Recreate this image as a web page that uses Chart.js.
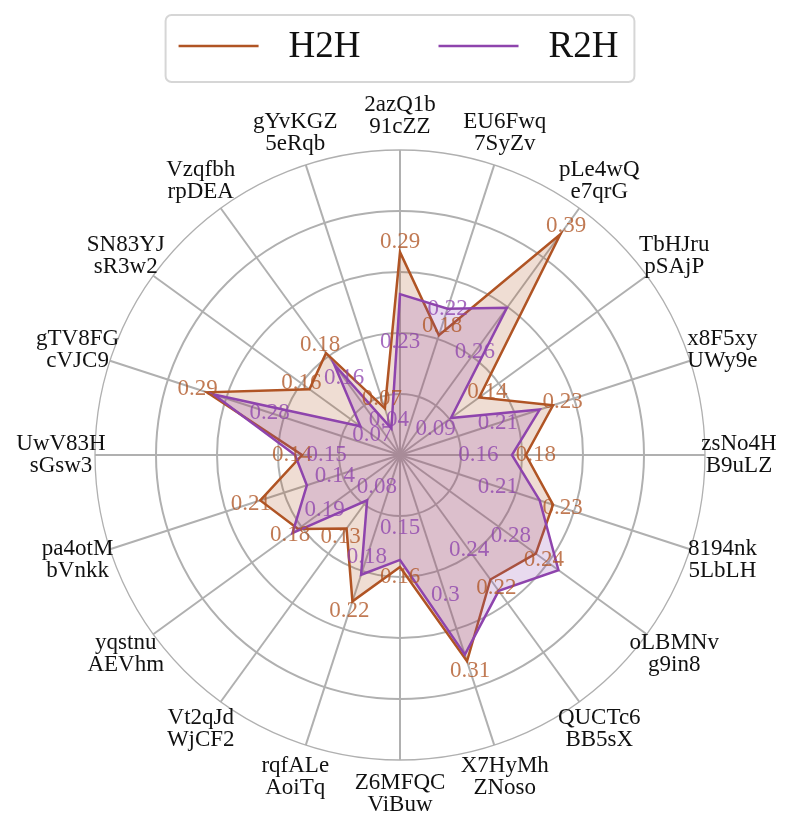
<!DOCTYPE html>
<html>
<head>
<meta charset="utf-8">
<title>H2H vs R2H radar</title>
<script src="https://cdn.jsdelivr.net/npm/chart.js@4.4.1/dist/chart.umd.min.js"></script>
<style>
    html, body { margin: 0; padding: 0; background: #ffffff; }
    #radarChart { display: block; }
</style>
</head>
<body>
<canvas id="radarChart" width="791" height="831"></canvas>
<script>
// Categories, clockwise from the top (two lines each)
const categories = [
    ['2azQ1b', '91cZZ'], ['EU6Fwq', '7SyZv'], ['pLe4wQ', 'e7qrG'], ['TbHJru', 'pSAjP'],
    ['x8F5xy', 'UWy9e'], ['zsNo4H', 'B9uLZ'], ['8194nk', '5LbLH'], ['oLBMNv', 'g9in8'],
    ['QUCTc6', 'BB5sX'], ['X7HyMh', 'ZNoso'], ['Z6MFQC', 'ViBuw'], ['rqfALe', 'AoiTq'],
    ['Vt2qJd', 'WjCF2'], ['yqstnu', 'AEVhm'], ['pa4otM', 'bVnkk'], ['UwV83H', 'sGsw3'],
    ['gTV8FG', 'cVJC9'], ['SN83YJ', 'sR3w2'], ['Vzqfbh', 'rpDEA'], ['gYvKGZ', '5eRqb']
];

const seriesNames = ['H2H', 'R2H'];
const h2hValues = [0.29, 0.18, 0.39, 0.14, 0.23, 0.18, 0.23, 0.24, 0.22, 0.31,
                   0.16, 0.22, 0.13, 0.18, 0.21, 0.14, 0.29, 0.16, 0.18, 0.07];
const r2hValues = [0.23, 0.22, 0.26, 0.09, 0.21, 0.16, 0.21, 0.28, 0.24, 0.30,
                   0.15, 0.18, 0.08, 0.19, 0.14, 0.15, 0.28, 0.07, 0.16, 0.04];

// Radial axis: 0 .. max, split into 5 equal rings
const radialMax = 0.436;
const ringTicks = 6;

const SERIF = "'Liberation Serif', 'DejaVu Serif', serif";
const H2H_RGB = '176, 84, 36';
const R2H_RGB = '142, 68, 173';
const GRID_COLOR = '#b0b0b0';

function boxesOverlap(a, b) {
    return a.x1 < b.x2 && b.x1 < a.x2 && a.y1 < b.y2 && b.y1 < a.y2;
}

// Value labels: H2H just outside its point, R2H pulled in towards the centre
// and nudged along its spoke only when it clearly hits another label
const valueLabelPlugin = {
    id: 'valueLabels',
    afterDatasetsDraw(chart) {
        const scale = chart.scales.r;
        const ctx = chart.ctx;
        ctx.save();
        ctx.font = `23px ${SERIF}`;
        ctx.textAlign = 'center';
        ctx.textBaseline = 'middle';

        const makeBox = (p, w) => ({
            x1: p.x - w / 2 + 3, x2: p.x + w / 2 - 3,
            y1: p.y - 6, y2: p.y + 6
        });

        const placed = [];
        const h2h = chart.data.datasets[0];
        const h2hItems = h2h.data.map((v, i) => {
            const p = scale.getPointPosition(i, scale.getDistanceFromCenterForValue(v) + 10);
            const text = String(v);
            placed.push(makeBox(p, ctx.measureText(text).width));
            return { text, p };
        });

        const r2h = chart.data.datasets[1];
        const factors = [0.7, 0.85, 1.0, 1.15, 1.3, 1.45, 0.55, 0.45];
        const r2hItems = r2h.data.map((v, i) => {
            const d = scale.getDistanceFromCenterForValue(v);
            const text = String(v);
            const w = ctx.measureText(text).width;
            let best = null;
            for (const f of factors) {
                const p = scale.getPointPosition(i, d * f);
                const box = makeBox(p, w);
                if (!placed.some(b => boxesOverlap(b, box))) {
                    best = { p, box };
                    break;
                }
            }
            if (!best) {
                const p = scale.getPointPosition(i, d * 0.7);
                best = { p, box: makeBox(p, w) };
            }
            placed.push(best.box);
            return { text, p: best.p };
        });

        ctx.fillStyle = `rgba(${h2h.rgb}, 0.78)`;
        h2hItems.forEach(it => ctx.fillText(it.text, it.p.x, it.p.y));
        ctx.fillStyle = `rgba(${r2h.rgb}, 0.78)`;
        r2hItems.forEach(it => ctx.fillText(it.text, it.p.x, it.p.y));
        ctx.restore();
    }
};

// Category labels centred on a circle just outside the outer ring
const categoryLabelPlugin = {
    id: 'categoryLabels',
    afterDraw(chart) {
        const scale = chart.scales.r;
        const ctx = chart.ctx;
        ctx.save();
        ctx.font = `23px ${SERIF}`;
        ctx.fillStyle = '#111111';
        ctx.textAlign = 'center';
        ctx.textBaseline = 'middle';
        chart.data.labels.forEach((lines, i) => {
            const p = scale.getPointPosition(i, scale.drawingArea + 34);
            const lineHeight = 22;
            const top = p.y - (lines.length - 1) * lineHeight / 2;
            lines.forEach((txt, k) => ctx.fillText(txt, p.x, top + k * lineHeight));
        });
        ctx.restore();
    }
};

// Framed legend with line samples, centred over the plot
const legendBoxPlugin = {
    id: 'legendBox',
    afterDraw(chart) {
        const ctx = chart.ctx;
        const datasets = chart.data.datasets;
        const lineLen = 80, textGap = 30, itemGap = 78, padL = 13, padR = 16;
        const midY = 46;
        ctx.save();
        ctx.font = `37px ${SERIF}`;
        const widths = datasets.map(ds => ctx.measureText(ds.label).width);
        let total = padL + padR;
        widths.forEach((w, i) => { total += lineLen + textGap + w + (i > 0 ? itemGap : 0); });
        const left = chart.scales.r.xCenter - total / 2;

        ctx.strokeStyle = '#d6d6d6';
        ctx.lineWidth = 2;
        ctx.beginPath();
        ctx.roundRect(left, 15, total, 67, 6);
        ctx.stroke();

        let x = left + padL;
        ctx.textAlign = 'left';
        ctx.textBaseline = 'middle';
        datasets.forEach((ds, i) => {
            ctx.strokeStyle = ds.borderColor;
            ctx.lineWidth = 2.5;
            ctx.beginPath();
            ctx.moveTo(x, midY);
            ctx.lineTo(x + lineLen, midY);
            ctx.stroke();
            x += lineLen + textGap;
            ctx.fillStyle = '#111111';
            ctx.fillText(ds.label, x, midY + 1);
            x += widths[i] + itemGap;
        });
        ctx.restore();
    }
};

function buildDataset(name, values, rgb, order) {
    return {
        label: name,
        data: values,
        rgb: rgb,
        order: order,
        borderColor: `rgb(${rgb})`,
        backgroundColor: `rgba(${rgb}, 0.2)`,
        borderWidth: 2.5,
        borderJoinStyle: 'miter',
        pointRadius: 0,
        pointHoverRadius: 0,
        fill: true,
        tension: 0
    };
}

document.addEventListener('DOMContentLoaded', () => {
    const canvas = document.getElementById('radarChart');
    window.radarChart = new Chart(canvas, {
        type: 'radar',
        data: {
            labels: categories,
            datasets: [
                buildDataset(seriesNames[0], h2hValues, H2H_RGB, 2),
                buildDataset(seriesNames[1], r2hValues, R2H_RGB, 1)
            ]
        },
        options: {
            responsive: false,
            animation: false,
            layout: { padding: { top: 150, bottom: 71, left: 95, right: 86 } },
            plugins: {
                legend: { display: false },
                tooltip: { enabled: false }
            },
            scales: {
                r: {
                    min: 0,
                    max: radialMax,
                    startAngle: 0,
                    ticks: { display: false, count: ringTicks },
                    grid: {
                        circular: true,
                        color: GRID_COLOR,
                        lineWidth: ctx => (ctx.index === ringTicks - 1 ? 1.3 : 2)
                    },
                    angleLines: { color: GRID_COLOR, lineWidth: 2 },
                    pointLabels: { display: false }
                }
            }
        },
        plugins: [valueLabelPlugin, categoryLabelPlugin, legendBoxPlugin]
    });
});
</script>
</body>
</html>
